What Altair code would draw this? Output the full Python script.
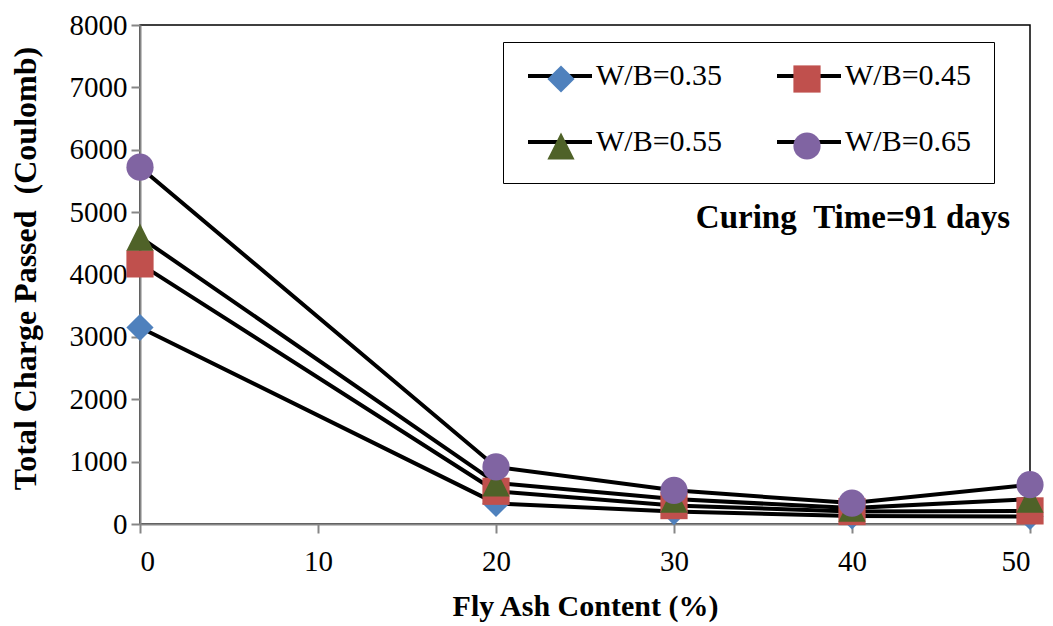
import altair as alt
import pandas as pd

# ---------------- data ----------------
fly_ash = [0, 20, 30, 40, 50]
series_names = ["W/B=0.35", "W/B=0.45", "W/B=0.55", "W/B=0.65"]
wb035 = [3150, 330, 200, 130, 120]
wb045 = [4170, 525, 295, 200, 210]
wb055 = [4600, 660, 400, 255, 400]
wb065 = [5720, 915, 540, 335, 630]
x_ticks = [0, 10, 20, 30, 40, 50]
y_ticks = [0, 1000, 2000, 3000, 4000, 5000, 6000, 7000, 8000]
note_text = ["Curing \u00a0Time=91 days"]

colors = ["#4F81BD", "#C0504D", "#4F6228", "#8064A2"]
shapes = ["diamond", "square", "M0,-1L1,1L-1,1Z", "circle"]

rows = []
for i, (name, vals) in enumerate(zip(series_names, [wb035, wb045, wb055, wb065])):
    for x, v in zip(fly_ash, vals):
        rows.append({"fly": x, "charge": v, "series": name, "series_line": name, "k": i})
df = pd.DataFrame(rows)

FONT = "Liberation Serif"

xenc = alt.X("fly:Q", scale=alt.Scale(domain=[0, 50], nice=False),
             axis=alt.Axis(values=x_ticks, title="Fly Ash Content (%)", format="d",
                           labelPadding=14, titleBaseline="alphabetic", titleY=91))
yenc = alt.Y("charge:Q", scale=alt.Scale(domain=[0, 8000], nice=False),
             axis=alt.Axis(values=y_ticks, title="Total Charge Passed \u00a0(Coulomb)",
                           format="d", labelPadding=4, titleX=-105, titleY=243,
                           titleAlign="center", titleBaseline="alphabetic",
                           titleFontSize=32))

# line part of the legend (no frame)
line_legend = alt.Legend(orient="none", legendX=386, legendY=17, columns=2, title=None,
                         direction="horizontal", padding=0,
                         symbolSize=4096, symbolStrokeWidth=4, symbolType="stroke",
                         labelFont=FONT, labelFontSize=30, labelColor="black",
                         labelOffset=2, columnPadding=46, rowPadding=17)

# marker part of the legend (draws the frame, no labels of its own)
marker_legend = alt.Legend(orient="none", legendX=363, legendY=17, columns=2, title=None,
                           direction="horizontal", padding=22, strokeColor="black",
                           symbolSize=740, symbolStrokeWidth=0, symbolOpacity=1,
                           symbolOffset=21, labelExpr="''",
                           labelFont=FONT, labelFontSize=30,
                           labelOffset=150, columnPadding=45, rowPadding=37)

lines = alt.Chart(df).mark_line(strokeWidth=4).encode(
    x=xenc, y=yenc,
    color=alt.Color("series_line:N",
                    scale=alt.Scale(range=["black"] * 4),
                    legend=line_legend),
    detail="series_line:N",
)

points = alt.Chart(df).mark_point(filled=True, opacity=1, size=740, strokeWidth=0).encode(
    x=xenc, y=yenc,
    fill=alt.Fill("series:N", scale=alt.Scale(domain=series_names, range=colors),
                  legend=marker_legend),
    shape=alt.Shape("series:N", scale=alt.Scale(domain=series_names, range=shapes),
                    legend=marker_legend),
    order=alt.Order("k:Q"),
)

note = alt.Chart(pd.DataFrame({"t": note_text})).mark_text(
    font=FONT, fontSize=33, fontWeight="bold", align="center", baseline="middle",
    color="black"
).encode(x=alt.value(713), y=alt.value(193), text="t:N")

chart = alt.layer(lines, points, note).properties(
    width=890, height=499,
    autosize=alt.AutoSizeParams(type="none"),
    padding={"left": 132, "top": 17, "right": 15, "bottom": 100},
).configure_view(stroke="black", strokeWidth=1.5).configure_axis(
    domainColor="#868686", domainWidth=2, tickColor="#868686", tickWidth=2, tickSize=9,
    labelFont=FONT, labelFontSize=29, labelColor="black",
    titleFont=FONT, titleFontSize=30, titleFontWeight="bold", titleColor="black",
    grid=False,
)

chart.save("out.html", embed_options={"renderer": "svg", "actions": False})
